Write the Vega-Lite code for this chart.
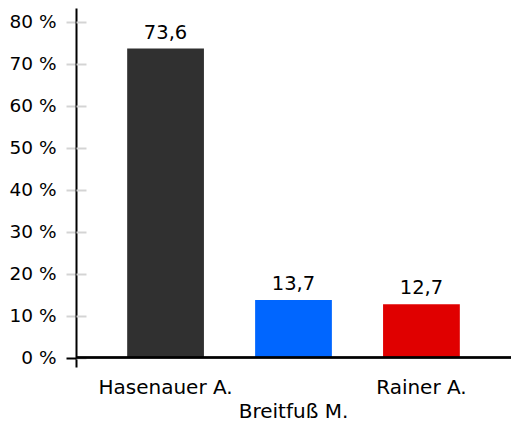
{
  "$schema": "https://vega.github.io/schema/vega-lite/v6.json",
  "width": 435,
  "height": 359,
  "autosize": {"type": "none"},
  "padding": {"left": 76, "top": 8, "right": 0, "bottom": 56},
  "background": "white",
  "config": {
    "view": {"stroke": null},
    "font": "DejaVu Sans",
    "locale": {"number": {"decimal": ",", "thousands": ".", "grouping": [3], "currency": ["", " €"]}}
  },
  "data": {
    "values": [
      {"name": "Hasenauer A.", "value": 73.6},
      {"name": "Breitfuß M.", "value": 13.7},
      {"name": "Rainer A.", "value": 12.7}
    ]
  },
  "layer": [
    {
      "mark": {"type": "bar"},
      "encoding": {
        "x": {
          "field": "name", "type": "nominal", "sort": null,
          "scale": {"paddingInner": 0.4, "paddingOuter": 0.4},
          "axis": {
            "title": null, "domain": false, "ticks": false, "labelAngle": 0,
            "labelFontSize": 20, "labelColor": "black", "labelBaseline": "alphabetic",
            "labelPadding": 26, "labelLineHeight": 24, "labelOverlap": false, "labelBound": false, "labelLimit": 0,
            "labelExpr": "datum.value == 'Breitfuß M.' ? ['', datum.value] : datum.value"
          }
        },
        "y": {
          "field": "value", "type": "quantitative",
          "scale": {"domain": [-2.26, 83.26], "nice": false, "zero": false},
          "axis": {
            "orient": "left", "title": null, "grid": false,
            "values": [0, 10, 20, 30, 40, 50, 60, 70, 80],
            "labelExpr": "datum.value + ' %'",
            "labelFontSize": 18.5, "labelColor": "black", "labelPadding": 10,
            "tickSize": 10, "tickWidth": 2,
            "tickColor": {"condition": {"test": "datum.value === 0", "value": "black"}, "value": "#d4d4d4"},
            "domainColor": "black", "domainWidth": 2
          }
        },
        "color": {
          "field": "name", "type": "nominal", "legend": null,
          "scale": {"domain": ["Hasenauer A.", "Breitfuß M.", "Rainer A."], "range": ["#303030", "#0066ff", "#e00000"]}
        }
      }
    },
    {
      "mark": {"type": "text", "baseline": "alphabetic", "dy": -10, "fontSize": 19.5, "color": "black"},
      "encoding": {
        "x": {
          "field": "name", "type": "nominal", "sort": null,
          "scale": {"paddingInner": 0.4, "paddingOuter": 0.4}
        },
        "y": {
          "field": "value", "type": "quantitative",
          "scale": {"domain": [-2.26, 83.26], "nice": false, "zero": false},
          "axis": {
            "orient": "left", "offset": -10, "title": null, "grid": false,
            "values": [0, 10, 20, 30, 40, 50, 60, 70, 80],
            "labels": false, "domain": false,
            "tickSize": 10, "tickWidth": 2, "tickColor": "#d4d4d4"
          }
        },
        "text": {"field": "value", "type": "quantitative", "format": ".1f"}
      }
    },
    {
      "mark": {"type": "rule", "color": "black", "strokeWidth": 2},
      "encoding": {
        "y": {"datum": 0, "type": "quantitative", "scale": {"domain": [-2.26, 83.26], "nice": false, "zero": false}, "axis": null}
      }
    }
  ],
  "resolve": {"axis": {"y": "independent"}}
}
